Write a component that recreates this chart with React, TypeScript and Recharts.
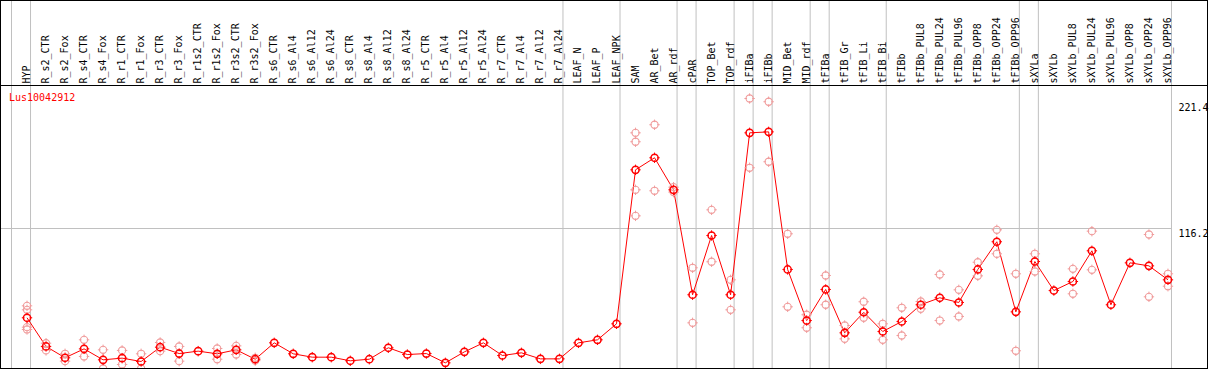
import React from 'react';
import { ComposedChart, Line, Scatter, XAxis, YAxis, ReferenceLine } from 'recharts';

// sample names, left to right
const categories = [
  'HYP', 'R_s2_CTR', 'R_s2_Fox', 'R_s4_CTR', 'R_s4_Fox', 'R_r1_CTR', 'R_r1_Fox', 'R_r3_CTR', 'R_r3_Fox',
  'R_r1s2_CTR', 'R_r1s2_Fox', 'R_r3s2_CTR', 'R_r3s2_Fox', 'R_s6_CTR', 'R_s6_Al4', 'R_s6_Al12', 'R_s6_Al24',
  'R_s8_CTR', 'R_s8_Al4', 'R_s8_Al12', 'R_s8_Al24', 'R_r5_CTR', 'R_r5_Al4', 'R_r5_Al12', 'R_r5_Al24',
  'R_r7_CTR', 'R_r7_Al4', 'R_r7_Al12', 'R_r7_Al24', 'LEAF_N', 'LEAF_P', 'LEAF_NPK', 'SAM', 'AR_Bet', 'AR_rdf',
  'cPAR', 'TOP_Bet', 'TOP_rdf', 'iFIBa', 'iFIBb', 'MID_Bet', 'MID_rdf', 'tFIBa', 'tFIB_Gr', 'tFIB_Li', 'tFIB_Bi',
  'tFIBb', 'tFIBb_PUL8', 'tFIBb_PUL24', 'tFIBb_PUL96', 'tFIBb_OPP8', 'tFIBb_OPP24', 'tFIBb_OPP96',
  'sXYLa', 'sXYLb', 'sXYLb_PUL8', 'sXYLb_PUL24', 'sXYLb_PUL96', 'sXYLb_OPP8', 'sXYLb_OPP24', 'sXYLb_OPP96',
];

// mean expression per sample
const means = [
  42.1, 18.3, 8.9, 16.3, 7.2, 8.6, 5.8, 17.7, 12.4,
  14.4, 12.2, 15.5, 7.7, 21.3, 12.2, 9.4, 9.4,
  6.4, 7.7, 17.2, 11.6, 12.4, 4.7, 13.8, 21.3,
  10.8, 13.0, 8.0, 8.0, 21.3, 23.8, 37.1, 164.9, 174.9, 148.3,
  61.2, 110.4, 61.2, 195.6, 196.4, 82.2, 39.8, 65.6, 29.6, 46.7, 30.7,
  39.0, 52.9, 58.7, 54.8, 82.2, 105.2, 47.0,
  88.8, 64.7, 72.2, 97.7, 52.9, 87.7, 85.2, 73.6,
];

// individual replicates per sample
const replicates: number[][] = [
  [52, 48.7, 34.3, 32.4], [21, 15], [12.2, 6.1], [23.8, 10], [15.5, 0], [15, 3.3], [12.2, 0], [21.6, 14.4], [18.3, 6.1],
  [], [16.6, 7.7], [18.8, 11.6], [8.9, 6.5], [], [], [], [],
  [], [], [], [], [], [], [], [],
  [], [], [], [], [], [], [], [195.6, 188.2, 148.3, 126.7], [202.3, 147.5], [150.5, 146.4],
  [83.6, 37.9], [131.7, 88.6], [73.6, 48.7], [224.1, 166.6], [221.4, 171.6], [111.8, 51.2], [44.6, 33.8], [77.2, 52.9], [35.7, 24.6], [55.4, 42.1], [37.1, 23.8],
  [50.4, 27.4], [55.6, 49.5], [78, 39.8], [65.3, 43.2], [88.2, 76.9], [115.1, 95.2], [78.6, 14.7],
  [95.2, 80.5], [], [82.7, 62], [114, 81.9], [], [], [111.2, 59.5], [78.6, 68.3],
];

// group separators are drawn just right of these samples
const separatorsAfter = [-1, 0, 28, 31, 34, 35, 37, 38, 39, 41, 42, 45, 52, 53, 60];
const yTicks = [0, 116.2, 221.4];
const gene = 'Lus10042912';

const W = 1209;
const H = 370;
const STEP = 19;
const X0 = -27 / STEP;
const X1 = X0 + 1208 / STEP;
const Y_MAX = 367.5 / (140 / 116.2);
const SEP = 3.5 / STEP;
const MONO = '"DejaVu Sans Mono", monospace';

const meanData = means.map((v, i) => ({ idx: i, v }));
const repData = replicates.flatMap((vals, i) => vals.map((v) => ({ idx: i, v })));

const Marker = ({ cx, cy, color, w }: { cx: number; cy: number; color: string; w: number }) => {
  if (cx == null || cy == null) return null;
  return (
    <g stroke={color} strokeWidth={w} fill="none">
      <circle cx={cx} cy={cy} r={3.6} />
      <line x1={cx} y1={cy - 5.2} x2={cx} y2={cy - 2.6} strokeWidth={1} />
      <line x1={cx} y1={cy + 2.6} x2={cx} y2={cy + 5.2} strokeWidth={1} />
      <line x1={cx - 5.2} y1={cy} x2={cx - 2.6} y2={cy} strokeWidth={1} />
      <line x1={cx + 2.6} y1={cy} x2={cx + 5.2} y2={cy} strokeWidth={1} />
    </g>
  );
};

const SampleTick = (props: any) => {
  const { x, payload } = props;
  return (
    <text
      transform={`translate(${x + 3},83.5) rotate(-90)`}
      fontFamily={MONO}
      fontSize={10}
      fill="#000"
      textAnchor="start"
    >
      {categories[payload.value]}
    </text>
  );
};

const ValueTick = (props: any) => {
  const { y, payload } = props;
  const v = payload.value;
  return (
    <text x={1178.5} y={v === 0 ? y - 3 : y + 8.8} fontFamily={MONO} fontSize={10} fill="#000">
      {String(v)}
    </text>
  );
};

export default function App() {
  return (
    <div style={{ position: 'absolute', left: 0, top: 0, width: W, height: H, background: '#fff' }}>
      <ComposedChart width={W} height={H} margin={{ top: 0, right: 0, bottom: 1.5, left: 0 }}>
        <XAxis
          dataKey="idx"
          type="number"
          orientation="top"
          domain={[X0, X1]}
          ticks={categories.map((_, i) => i)}
          interval={0}
          height={1}
          axisLine={false}
          tickLine={false}
          tick={<SampleTick />}
          allowDataOverflow
        />
        <YAxis
          type="number"
          orientation="right"
          mirror
          width={1}
          domain={[0, Y_MAX]}
          ticks={yTicks}
          axisLine={false}
          tickLine={false}
          tick={<ValueTick />}
          allowDataOverflow
        />
        {separatorsAfter.map((i) => (
          <ReferenceLine key={i} x={i + SEP} stroke="#c0c0c0" strokeWidth={1} ifOverflow="visible" />
        ))}
        <ReferenceLine
          segment={[{ x: X0, y: yTicks[1] }, { x: 60 + SEP, y: yTicks[1] }]}
          stroke="#c0c0c0"
          strokeWidth={1}
          ifOverflow="visible"
        />
        <Scatter
          data={repData}
          dataKey="v"
          isAnimationActive={false}
          shape={(p: any) => <Marker cx={p.cx} cy={p.cy} color="#f09c9c" w={1.1} />}
        />
        <Line
          data={meanData}
          dataKey="v"
          type="linear"
          stroke="#ff0000"
          strokeWidth={1}
          isAnimationActive={false}
          dot={(p: any) => <Marker key={`m${p.index}`} cx={p.cx} cy={p.cy} color="#ff0000" w={1.5} />}
          activeDot={false}
        />
      </ComposedChart>
      <svg width={W} height={H} style={{ position: 'absolute', left: 0, top: 0, pointerEvents: 'none' }}>
        <g stroke="#000" strokeWidth={1} fill="none" shapeRendering="crispEdges">
          <line x1={0} y1={0.5} x2={1208} y2={0.5} />
          <line x1={0.5} y1={0} x2={0.5} y2={369} />
          <line x1={1207.5} y1={0} x2={1207.5} y2={369} />
          <line x1={0} y1={85.5} x2={1208} y2={85.5} />
          <line x1={0} y1={368.5} x2={1208} y2={368.5} />
        </g>
        <text x={9} y={101} fontFamily={MONO} fontSize={10} fill="#ff0000">
          {gene}
        </text>
      </svg>
    </div>
  );
}
